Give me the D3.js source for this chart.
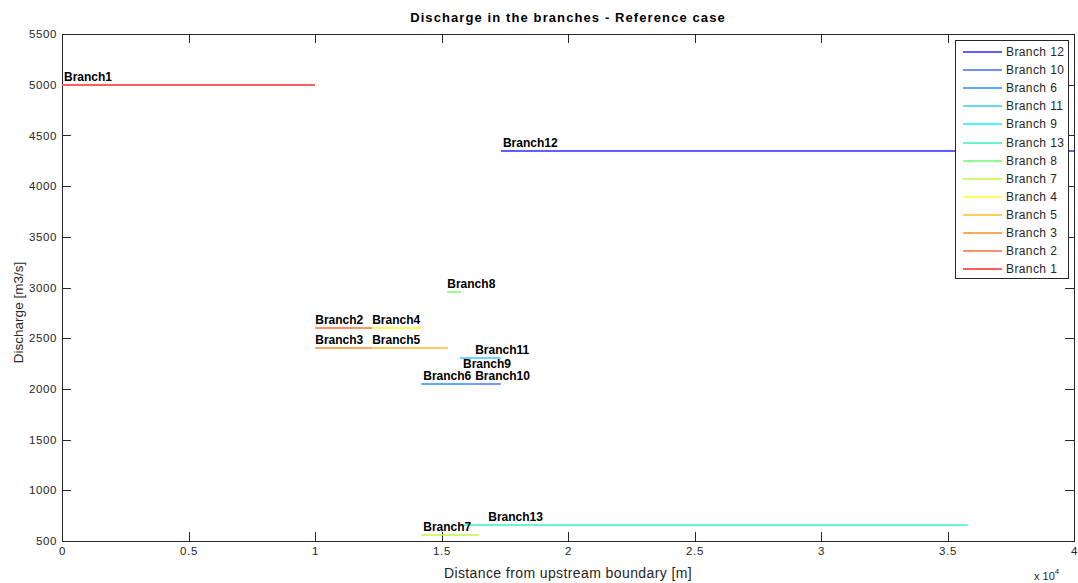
<!DOCTYPE html>
<html>
<head>
<meta charset="utf-8">
<script src="https://cdn.jsdelivr.net/npm/d3@7"></script>
<style>
  body { margin: 0; background: #fff; }
  svg { font-family: "Liberation Sans", Arial, sans-serif; }
</style>
</head>
<body>
<div id="chart"></div>
<script>
// branch segments: name, start/end distance [m], discharge [m3/s]
var branchNames = ["Branch1", "Branch2", "Branch3", "Branch4", "Branch5", "Branch6", "Branch7",
                   "Branch8", "Branch9", "Branch10", "Branch11", "Branch12", "Branch13"];
var startX = [0, 10000, 10000, 12250, 12250, 14200, 14200, 15220, 15770, 16220, 15730, 17350, 15770];
var endX   = [10000, 12250, 12250, 14200, 15250, 16220, 16500, 15770, 15800, 17350, 17350, 40000, 35800];
var discharge = [5000, 2600, 2400, 2600, 2400, 2045, 555, 2960, 2170, 2045, 2300, 4350, 655];
var labelX = [0, 9930, 9930, 12180, 12180, 14200, 14200, 15150, 15770, 16250, 16250, 17350, 16770];

// legend order as in the figure
var legendOrder = ["Branch 12", "Branch 10", "Branch 6", "Branch 11", "Branch 9", "Branch 13", "Branch 8",
                   "Branch 7", "Branch 4", "Branch 5", "Branch 3", "Branch 2", "Branch 1"];
var legendColors = ["#2a2aff", "#3f6cff", "#5aaaff", "#3cc4ff", "#10f0ff", "#38f2c0", "#70f870",
                    "#c0f840", "#ffff20", "#ffc020", "#ff8c20", "#ff6c3c", "#ff5c5c"];

var xTicks = [0, 5000, 10000, 15000, 20000, 25000, 30000, 35000, 40000];
var xTickLabels = ["0", "0.5", "1", "1.5", "2", "2.5", "3", "3.5", "4"];
var yTicks = [500, 1000, 1500, 2000, 2500, 3000, 3500, 4000, 4500, 5000, 5500];

var W = 1078, H = 583;
var margin = {top: 34, right: 4, bottom: 42, left: 62};
var width = W - margin.left - margin.right,
    height = H - margin.top - margin.bottom;

var colorOf = function(name) {
  var i = legendOrder.indexOf(name.replace("Branch", "Branch "));
  return legendColors[i];
};

var data = branchNames.map(function(n, i) {
  return {name: n, x0: startX[i], x1: endX[i], q: discharge[i], lx: labelX[i]};
});

var svg = d3.select("#chart").append("svg")
    .attr("width", W).attr("height", H);

var x = d3.scaleLinear().domain([0, 40000]).range([0, width]);
var y = d3.scaleLinear().domain([500, 5500]).range([height, 0]);

var g = svg.append("g")
    .attr("transform", "translate(" + margin.left + "," + margin.top + ")");

// axes with inward ticks on all four sides (box on)
var tickLen = 9;
var xb = g.append("g").attr("transform", "translate(0," + height + ")")
    .call(d3.axisBottom(x).tickValues(xTicks).tickSizeInner(-tickLen).tickSizeOuter(0)
      .tickFormat(function(d, i) { return xTickLabels[i]; }).tickPadding(6));
var xt = g.append("g")
    .call(d3.axisTop(x).tickValues(xTicks).tickSizeInner(-tickLen).tickSizeOuter(0).tickFormat(""));
var yl = g.append("g")
    .call(d3.axisLeft(y).tickValues(yTicks).tickSizeInner(-tickLen).tickSizeOuter(0)
      .tickFormat(d3.format("d")).tickPadding(5));
var yr = g.append("g").attr("transform", "translate(" + width + ",0)")
    .call(d3.axisRight(y).tickValues(yTicks).tickSizeInner(-tickLen).tickSizeOuter(0).tickFormat(""));

[xb, xt, yl, yr].forEach(function(a) {
  a.select(".domain").remove();
  a.selectAll("line").attr("stroke", "#262626").attr("shape-rendering", "crispEdges");
  a.selectAll("text").attr("fill", "#262626")
    .style("font-family", "'Liberation Sans', Arial, sans-serif").style("font-size", "11.5px")
    .style("letter-spacing", "0.6px");
});
g.append("rect").attr("width", width).attr("height", height)
    .attr("fill", "none").attr("stroke", "#262626").attr("stroke-width", 1)
    .attr("shape-rendering", "crispEdges");

// branch lines
g.selectAll(".branch")
  .data(data)
  .enter().append("line")
    .attr("class", "branch")
    .attr("x1", function(d) { return x(d.x0); })
    .attr("x2", function(d) { return x(d.x1); })
    .attr("y1", function(d) { return Math.round(y(d.q)); })
    .attr("y2", function(d) { return Math.round(y(d.q)); })
    .attr("stroke", function(d) { return colorOf(d.name); })
    .attr("stroke-width", function(d) { return d.name == "Branch6" || d.name == "Branch1" ? 1.8 : 1.4; });

// branch labels
g.selectAll(".blabel")
  .data(data)
  .enter().append("text")
    .attr("class", "blabel")
    .attr("x", function(d) { return x(d.lx) + 2; })
    .attr("y", function(d) { return y(d.q) - 4; })
    .style("font-size", "12px")
    .style("font-weight", "bold")
    .attr("fill", "#000")
    .text(function(d) { return d.name; });

// legend
var lg = svg.append("g").attr("transform", "translate(955,40)");
lg.append("rect").attr("width", 113).attr("height", 238)
    .attr("fill", "#fff").attr("stroke", "#262626").attr("shape-rendering", "crispEdges");
var item = lg.selectAll(".item")
  .data(legendOrder)
  .enter().append("g")
    .attr("transform", function(d, i) { return "translate(0," + Math.round(12 + i * 18.1) + ")"; });
item.append("line")
    .attr("x1", 8).attr("x2", 47).attr("y1", 0).attr("y2", 0)
    .attr("stroke", function(d, i) { return legendColors[i]; })
    .attr("stroke-width", function(d) { return d == "Branch 6" || d == "Branch 1" ? 2.2 : 1.5; });
item.append("text")
    .attr("x", 51).attr("y", 4)
    .style("font-size", "12px").style("letter-spacing", "0.4px").attr("fill", "#262626")
    .text(function(d) { return d; });

// title and axis labels
svg.append("text")
    .attr("x", margin.left + width / 2).attr("y", 22)
    .attr("text-anchor", "middle")
    .style("font-size", "13px").style("font-weight", "bold").style("letter-spacing", "1.1px")
    .attr("fill", "#000")
    .text("Discharge in the branches - Reference case");
svg.append("text")
    .attr("x", margin.left + width / 2).attr("y", 578)
    .attr("text-anchor", "middle")
    .style("font-size", "14px").style("letter-spacing", "0.4px").attr("fill", "#262626")
    .text("Distance from upstream boundary [m]");
svg.append("text")
    .attr("transform", "translate(23," + (margin.top + height / 2 + 25) + ") rotate(-90)")
    .attr("text-anchor", "middle")
    .style("font-size", "13.5px").attr("fill", "#262626")
    .text("Discharge [m3/s]");

var ex = svg.append("text").attr("x", 1034).attr("y", 580)
    .style("font-size", "11px").attr("fill", "#262626");
ex.append("tspan").text("x 10");
ex.append("tspan").attr("dy", -6).style("font-size", "8px").text("4");
</script>
</body>
</html>
